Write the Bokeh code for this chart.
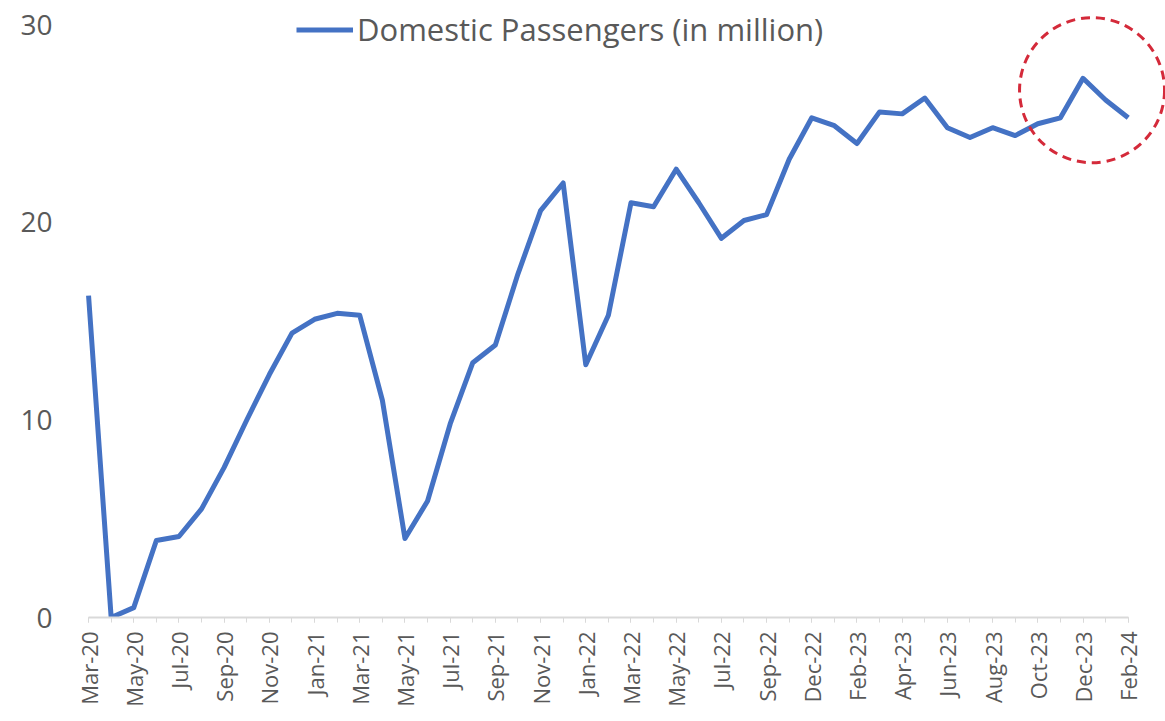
import math
from bokeh.plotting import figure
from bokeh.models import Range1d, FixedTicker, Legend, LegendItem
from bokeh.embed import file_html
from bokeh.resources import INLINE

months = ["Mar-20", "Apr-20", "May-20", "Jun-20", "Jul-20", "Aug-20", "Sep-20", "Oct-20",
          "Nov-20", "Dec-20", "Jan-21", "Feb-21", "Mar-21", "Apr-21", "May-21", "Jun-21",
          "Jul-21", "Aug-21", "Sep-21", "Oct-21", "Nov-21", "Dec-21", "Jan-22", "Feb-22",
          "Mar-22", "Apr-22", "May-22", "Jun-22", "Jul-22", "Aug-22", "Sep-22", "Nov-22",
          "Dec-22", "Jan-23", "Feb-23", "Mar-23", "Apr-23", "May-23", "Jun-23", "Jul-23",
          "Aug-23", "Sep-23", "Oct-23", "Nov-23", "Dec-23", "Jan-24", "Feb-24"]
passengers = [16.3, 0.0, 0.5, 3.9, 4.1, 5.5, 7.6, 10.0, 12.3, 14.4, 15.1, 15.4, 15.3, 11.0,
              4.0, 5.9, 9.8, 12.9, 13.8, 17.4, 20.6, 22.0, 12.8, 15.3, 21.0, 20.8, 22.7,
              21.0, 19.2, 20.1, 20.4, 23.2, 25.3, 24.9, 24.0, 25.6, 25.5, 26.3, 24.8, 24.3,
              24.8, 24.4, 25.0, 25.3, 27.3, 26.2, 25.3]
y_ticks = [0, 10, 20, 30]
series_name = "Domestic Passengers (in million)"

# highlight annotation (dashed circle around latest months)
highlight_x = [44.4]
highlight_y = [26.7]

n = len(months)
xs = list(range(n))
label_idx = list(range(0, n, 2))

GRAY = "#595959"
BLUE = "#4472C4"
FONT = "Open Sans"

p = figure(width=1165, height=721, output_backend="svg", toolbar_location=None,
           x_range=Range1d(-1.02, 47.65), y_range=Range1d(0, 31.24),
           min_border_left=65, min_border_right=0, min_border_top=0, min_border_bottom=104)
p.outline_line_color = None
p.xgrid.grid_line_color = None
p.ygrid.grid_line_color = None
p.background_fill_color = "white"
p.border_fill_color = "white"

r = p.line(xs, passengers, line_color=BLUE, line_width=5, line_join="round")

p.scatter(highlight_x, highlight_y, marker="circle", size=145, fill_color=None,
          line_color="#D42A3A", line_width=3, line_dash="9 6")

# x axis
p.xaxis.ticker = FixedTicker(ticks=label_idx, minor_ticks=xs)
p.xaxis.major_label_overrides = {i: months[i] for i in label_idx}
p.xaxis.major_label_orientation = math.pi / 2
p.xaxis.bounds = (0, n - 1)
p.xaxis.axis_line_color = "#D9D9D9"
p.xaxis.axis_line_width = 2
p.xaxis.major_tick_line_color = "#D9D9D9"
p.xaxis.minor_tick_line_color = "#D9D9D9"
p.xaxis.major_tick_out = 5
p.xaxis.major_tick_in = 0
p.xaxis.minor_tick_out = 5
p.xaxis.minor_tick_in = 0
p.xaxis.major_label_text_font = FONT
p.xaxis.major_label_text_font_size = "22px"
p.xaxis.major_label_text_color = GRAY
p.xaxis.major_label_standoff = 9

# y axis
p.yaxis.ticker = FixedTicker(ticks=y_ticks)
p.yaxis.axis_line_color = None
p.yaxis.major_tick_line_color = None
p.yaxis.minor_tick_line_color = None
p.yaxis.major_label_text_font = FONT
p.yaxis.major_label_text_font_size = "28px"
p.yaxis.major_label_text_color = GRAY
p.yaxis.major_label_standoff = 7

legend = Legend(items=[LegendItem(label=series_name, renderers=[r])],
                location=(231, 567), padding=0, margin=0, spacing=0,
                glyph_width=57, glyph_height=31, label_standoff=4,
                label_text_font=FONT, label_text_font_size="31px",
                label_text_color=GRAY, border_line_color=None,
                background_fill_alpha=0)
p.add_layout(legend, "center")

open("out.html", "w").write(file_html(p, INLINE))
